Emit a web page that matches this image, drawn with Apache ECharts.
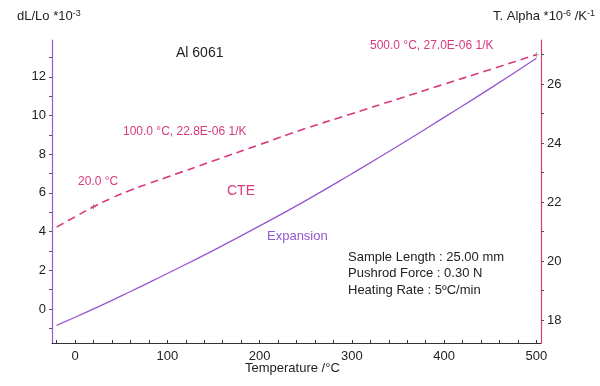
<!DOCTYPE html>
<html><head><meta charset="utf-8">
<script src="https://cdn.jsdelivr.net/npm/echarts@6/dist/echarts.min.js"></script>
<style>html,body{margin:0;padding:0;background:#fff}#c{width:600px;height:386px}</style>
</head><body><div id="c"></div>
<script>
var temps = [-20, 0, 20, 40, 60, 80, 100, 150, 200, 250, 300, 350, 400, 450, 500];
var expansion = [-0.85, -0.43, 0, 0.44, 0.9, 1.36, 1.83, 3.03, 4.29, 5.6, 6.99, 8.42, 9.9, 11.4, 12.96];
var cte = [21.15, 21.5, 21.84, 22.14, 22.4, 22.63, 22.85, 23.4, 23.95, 24.5, 25.0, 25.5, 26.0, 26.5, 27.0];
var xLabels = [0, 100, 200, 300, 400, 500];
var xTicks = [-20, 0, 20, 40, 60, 80, 100, 120, 140, 160, 180, 200, 220, 240, 260, 280, 300, 320, 340, 360, 380, 400, 420, 440, 460, 480, 500];
var leftLabels = [0, 2, 4, 6, 8, 10, 12];
var leftTicks = [-1, 0, 1, 2, 3, 4, 5, 6, 7, 8, 9, 10, 11, 12, 13];
var rightLabels = [18, 20, 22, 24, 26];
var rightTicks = [18, 19, 20, 21, 22, 23, 24, 25, 26, 27];
var markedTemps = [20, 500];
var markedCte = [21.84, 27.0];

var PURPLE = '#9457cf';
var PINK = '#d7397f';
var TXT = '#222';
var FONT = 'Liberation Sans, Arial, sans-serif';

var chart = echarts.init(document.getElementById('c'));
chart.setOption({
  animation: false,
  backgroundColor: '#fff',
  textStyle: { fontFamily: FONT },
  grid: { left: 52, right: 59, top: 40, bottom: 43, containLabel: false },
  xAxis: {
    type: 'value', min: -25, max: 505,
    splitLine: { show: false },
    axisLine: { show: true, onZero: false, lineStyle: { color: '#333', width: 1 } },
    axisTick: { show: true, inside: true, length: 3, customValues: xTicks, lineStyle: { color: '#333' } },
    axisLabel: { customValues: xLabels, color: TXT, fontSize: 13, margin: 7, fontFamily: FONT }
  },
  yAxis: [{
    type: 'value', min: -1.76, max: 13.9, position: 'left',
    splitLine: { show: false },
    axisLine: { show: true, onZero: false, lineStyle: { color: PURPLE, width: 1.2 } },
    axisTick: { show: true, length: 3, customValues: leftTicks, lineStyle: { color: '#555' } },
    axisLabel: { customValues: leftLabels, color: TXT, fontSize: 13, margin: 6, fontFamily: FONT }
  }, {
    type: 'value', min: 17.22, max: 27.5, position: 'right',
    splitLine: { show: false },
    axisLine: { show: true, onZero: false, lineStyle: { color: PINK, width: 1.2 } },
    axisTick: { show: true, length: 3, customValues: rightTicks, lineStyle: { color: '#555' } },
    axisLabel: { customValues: rightLabels, color: TXT, fontSize: 13, margin: 6, fontFamily: FONT }
  }],
  series: [{
    name: 'Expansion', type: 'line', yAxisIndex: 0, smooth: true, showSymbol: false,
    data: temps.map(function (t, i) { return [t, expansion[i]]; }),
    lineStyle: { color: PURPLE, width: 1.3 }
  }, {
    name: 'CTE', type: 'line', yAxisIndex: 1, smooth: true, showSymbol: false,
    data: temps.map(function (t, i) { return [t, cte[i]]; }),
    lineStyle: { color: PINK, width: 1.6, type: [8, 5] }
  }, {
    name: 'marks', type: 'scatter', yAxisIndex: 1,
    data: markedTemps.map(function (t, i) { return [t, markedCte[i]]; }),
    symbol: 'path://M4,0H6V4H10V6H6V10H4V6H0V4H4Z', symbolSize: 5,
    itemStyle: { color: '#7a8a80' }, silent: true
  }],
  graphic: [
    { type: 'text', left: 17, top: 9, style: { text: '{a|dL/Lo *10}{s|-3}', rich: { a: { fontSize: 13, fill: TXT, fontFamily: FONT }, s: { fontSize: 9, fill: TXT, fontFamily: FONT, verticalAlign: 'top', padding: [0, 0, 6, 0] } } } },
    { type: 'text', right: 5, top: 9, style: { text: '{a|T. Alpha *10}{s|-6}{a| /K}{s|-1}', rich: { a: { fontSize: 13, fill: TXT, fontFamily: FONT }, s: { fontSize: 9, fill: TXT, fontFamily: FONT, padding: [0, 0, 6, 0] } } } },
    { type: 'text', left: 176, top: 46, style: { text: 'Al 6061', fontSize: 14, fill: TXT, fontFamily: FONT } },
    { type: 'text', left: 370, top: 40, style: { text: '500.0 °C, 27.0E-06 1/K', fontSize: 12, fill: PINK, fontFamily: FONT } },
    { type: 'text', left: 123, top: 126, style: { text: '100.0 °C, 22.8E-06 1/K', fontSize: 12, fill: PINK, fontFamily: FONT } },
    { type: 'text', left: 78, top: 176, style: { text: '20.0 °C', fontSize: 12, fill: PINK, fontFamily: FONT } },
    { type: 'text', left: 227, top: 184, style: { text: 'CTE', fontSize: 14, fill: PINK, fontFamily: FONT } },
    { type: 'text', left: 267, top: 230, style: { text: 'Expansion', fontSize: 13, fill: PURPLE, fontFamily: FONT } },
    { type: 'text', left: 348, top: 249, style: { text: 'Sample Length : 25.00 mm\nPushrod Force : 0.30 N\nHeating Rate : 5ºC/min', fontSize: 13, lineHeight: 16.5, fill: TXT, fontFamily: FONT } },
    { type: 'text', left: 245, top: 362, style: { text: 'Temperature /°C', fontSize: 13, fill: TXT, fontFamily: FONT } }
  ]
});
</script>
</body></html>
